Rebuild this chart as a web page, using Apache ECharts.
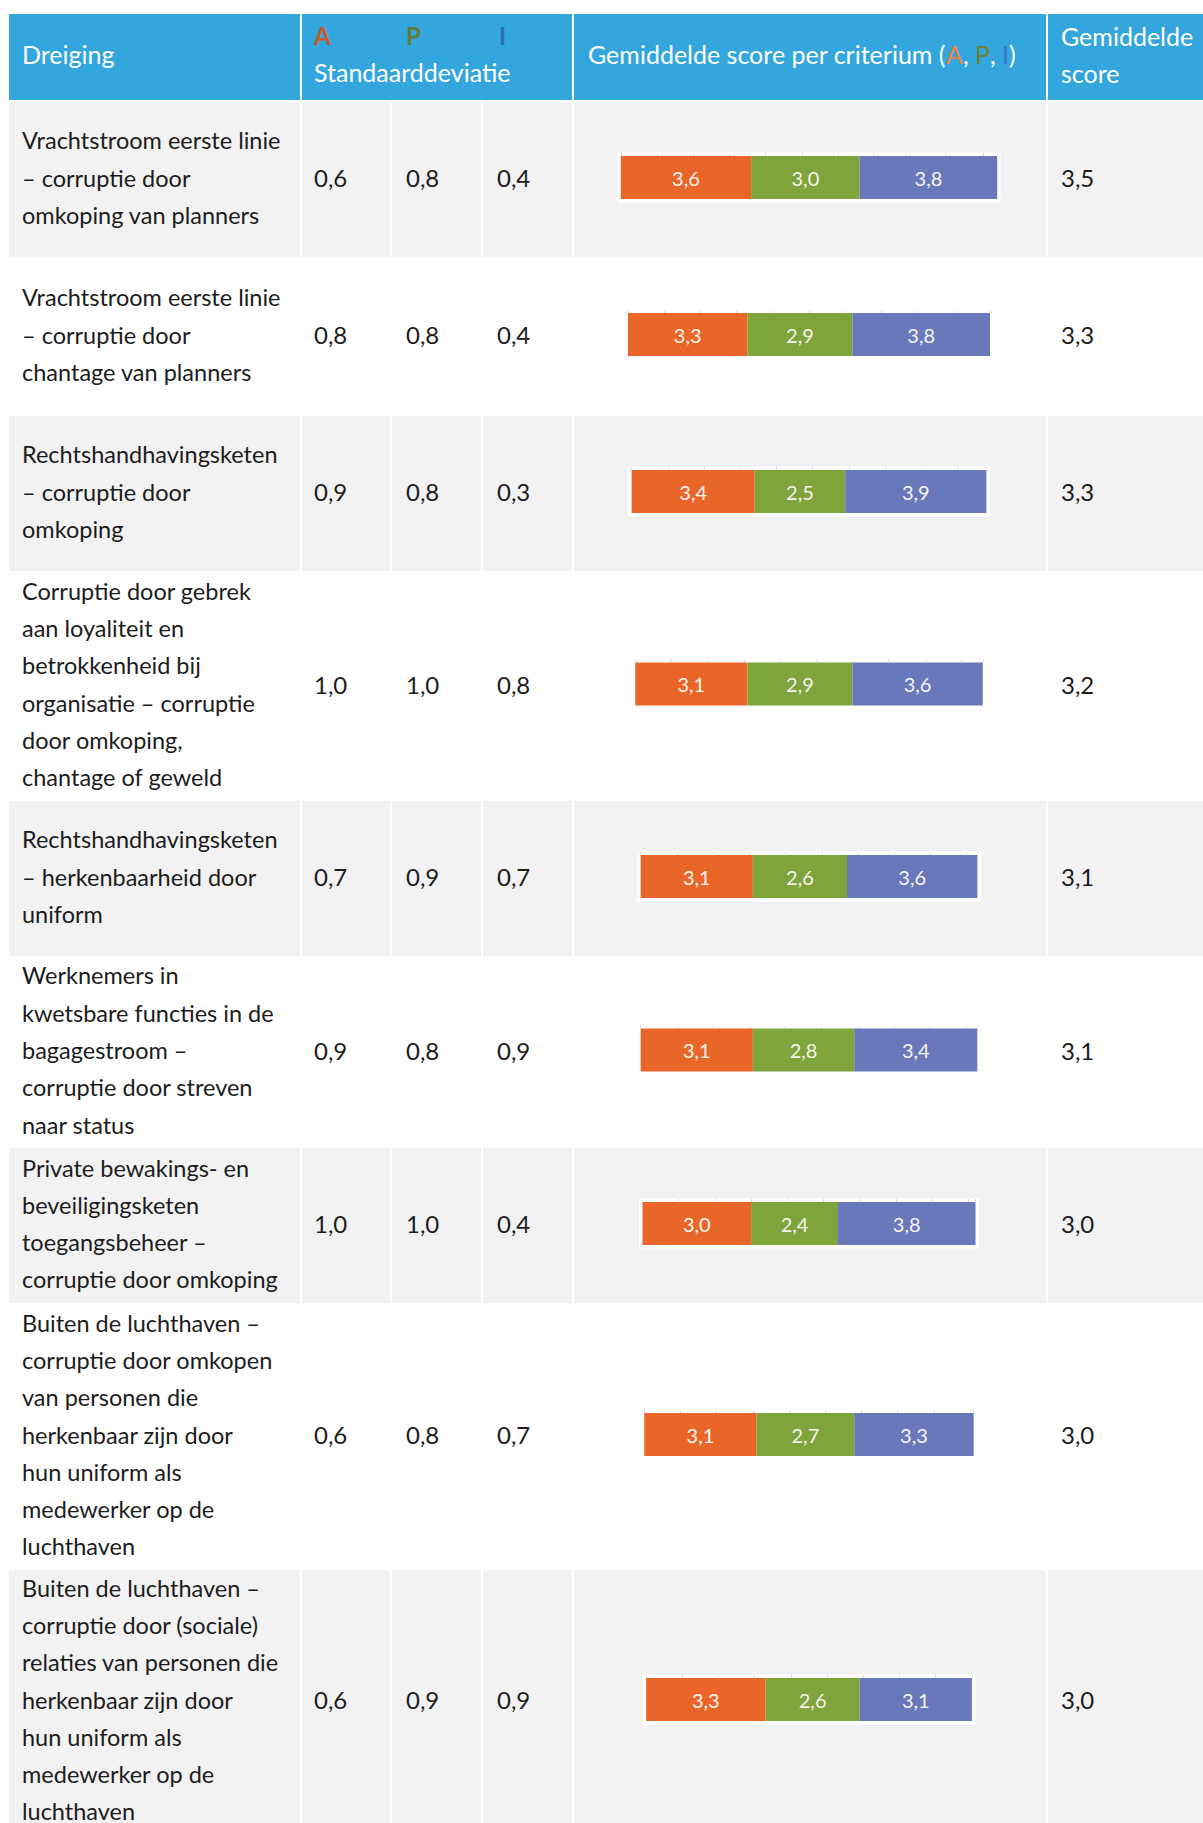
<!DOCTYPE html>
<html><head><meta charset="utf-8">
<script src="https://cdn.jsdelivr.net/npm/echarts@6/dist/echarts.min.js"></script>
<style>html,body{margin:0;padding:0;background:#fff;} #c{width:1203px;height:1823px;}</style>
</head><body><div id="c"></div>
<script>
// ---- data ----
const threats = [
  "Vrachtstroom eerste linie\n– corruptie door\nomkoping van planners",
  "Vrachtstroom eerste linie\n– corruptie door\nchantage van planners",
  "Rechtshandhavingsketen\n– corruptie door\nomkoping",
  "Corruptie door gebrek\naan loyaliteit en\nbetrokkenheid bij\norganisatie – corruptie\ndoor omkoping,\nchantage of geweld",
  "Rechtshandhavingsketen\n– herkenbaarheid door\nuniform",
  "Werknemers in\nkwetsbare functies in de\nbagagestroom –\ncorruptie door streven\nnaar status",
  "Private bewakings- en\nbeveiligingsketen\ntoegangsbeheer –\ncorruptie door omkoping",
  "Buiten de luchthaven –\ncorruptie door omkopen\nvan personen die\nherkenbaar zijn door\nhun uniform als\nmedewerker op de\nluchthaven",
  "Buiten de luchthaven –\ncorruptie door (sociale)\nrelaties van personen die\nherkenbaar zijn door\nhun uniform als\nmedewerker op de\nluchthaven"
];
const sdA = [0.6, 0.8, 0.9, 1.0, 0.7, 0.9, 1.0, 0.6, 0.6];
const sdP = [0.8, 0.8, 0.8, 1.0, 0.9, 0.8, 1.0, 0.8, 0.9];
const sdI = [0.4, 0.4, 0.3, 0.8, 0.7, 0.9, 0.4, 0.7, 0.9];
const scoreA = [3.6, 3.3, 3.4, 3.1, 3.1, 3.1, 3.0, 3.1, 3.3];
const scoreP = [3.0, 2.9, 2.5, 2.9, 2.6, 2.8, 2.4, 2.7, 2.6];
const scoreI = [3.8, 3.8, 3.9, 3.6, 3.6, 3.4, 3.8, 3.3, 3.1];
const avgScore = [3.5, 3.3, 3.3, 3.2, 3.1, 3.1, 3.0, 3.0, 3.0];
const criteria = ["A", "P", "I"];
const headDreiging = "Dreiging";
const headSd = "Standaarddeviatie";
const headScore = "Gemiddelde score per criterium (";
const headAvg = "Gemiddelde\nscore";

// ---- layout & style ----
const colL = [9, 302, 392, 483, 574, 1048];
const colR = [300, 390, 481, 572, 1046, 1203];
const headTop = 14, headBot = 100, rowTop0 = 102, gap = 2, rowLineH = 37.6, textLineH = 37.3;
const pxPerUnit = 36.2, barCenterX = 809, barH = 43;
const headBlue = '#34a6de';
const segColors = ['#ea6628', '#7fa43c', '#6878bb'];
const headLetterColors = ['#c95a2a', '#647b36', '#2c6fb8'];
const bodyFont = 'Lato, "Open Sans", sans-serif';
const textFont = '23.5px ' + bodyFont;
const numFont = '24px ' + bodyFont;
const headFont = '25px ' + bodyFont;
const fmt = v => v.toFixed(1).replace('.', ',');

const graphic = [];
const grids = [], xAxes = [], yAxes = [], series = [];

// header
[[0,0],[1,3],[4,4],[5,5]].forEach(([a,b]) => {
  graphic.push({type:'rect', z:-10, shape:{x:colL[a], y:headTop, width:colR[b]-colL[a], height:headBot-headTop}, style:{fill:headBlue}});
});
const hMid = (headTop + headBot) / 2 - 3;
graphic.push({type:'text', z:10, x:22, y:hMid, style:{text:headDreiging, font:headFont, fill:'#fff', verticalAlign:'middle'}});
const sdX = [314, 406, 497];
criteria.forEach((c, k) => {
  graphic.push({type:'text', z:10, x:sdX[k] + (k===2?2:0), y:35, style:{text:c, font:'bold 24px '+bodyFont, fill:headLetterColors[k], verticalAlign:'middle'}});
});
graphic.push({type:'text', z:10, x:314, y:72, style:{text:headSd, font:headFont, fill:'#fff', verticalAlign:'middle'}});
graphic.push({type:'text', z:10, x:588, y:hMid, style:{
  text:'{w|' + headScore + '}{a|' + criteria[0] + '}{w|, }{p|' + criteria[1] + '}{w|, }{i|' + criteria[2] + '}{w|)}',
  verticalAlign:'middle',
  rich:{
    w:{font:headFont, fill:'#fff'},
    a:{font:headFont, fill:'#ee8043'},
    p:{font:headFont, fill:'#6d8033'},
    i:{font:headFont, fill:'#3b6fc6'}
  }}});
graphic.push({type:'text', z:10, x:1061, y:hMid, style:{text:headAvg, font:headFont, fill:'#fff', lineHeight:37, verticalAlign:'middle'}});

// rows
let y = rowTop0;
threats.forEach((t, i) => {
  const nLines = t.split('\n').length;
  const h = Math.max(155, Math.round(nLines * rowLineH));
  const fill = i % 2 === 0 ? '#f2f2f2' : '#ffffff';
  for (let c = 0; c < 6; c++) {
    graphic.push({type:'rect', z:-10, shape:{x:colL[c], y:y, width:colR[c]-colL[c], height:h}, style:{fill:fill}});
  }
  const cy = y + h / 2;
  graphic.push({type:'text', z:10, x:22, y:cy - 2, style:{text:t, font:textFont, fill:'#1c1c1c', lineHeight:textLineH, verticalAlign:'middle'}});
  [sdA[i], sdP[i], sdI[i]].forEach((v, k) => {
    graphic.push({type:'text', z:10, x:sdX[k], y:cy - 2, style:{text:fmt(v), font:numFont, fill:'#1c1c1c', verticalAlign:'middle'}});
  });
  graphic.push({type:'text', z:10, x:1061, y:cy - 2, style:{text:fmt(avgScore[i]), font:numFont, fill:'#1c1c1c', verticalAlign:'middle'}});

  // bar grid
  const vals = [scoreA[i], scoreP[i], scoreI[i]];
  const S = +(vals[0] + vals[1] + vals[2]).toFixed(1);
  const w = S * pxPerUnit;
  grids.push({left: barCenterX - w / 2, top: cy - barH / 2 - 2, width: w, height: barH,
    show:true, backgroundColor:'#fff', borderColor:'#fff', borderWidth:7, containLabel:false});
  xAxes.push({type:'value', gridIndex:i, min:0, max:S, interval:1, position:'top',
    axisLine:{show:false}, axisLabel:{show:false}, splitLine:{show:false},
    axisTick:{show:true, length:3, lineStyle:{color:'#dcdcdc', width:1}}});
  yAxes.push({type:'category', gridIndex:i, data:[''], show:false});
  vals.forEach((v, k) => {
    series.push({type:'bar', name:criteria[k], xAxisIndex:i, yAxisIndex:i, stack:'row'+i,
      data:[v], barWidth:'100%', barCategoryGap:0, itemStyle:{color:segColors[k]},
      label:{show:true, position:'inside', formatter:p => fmt(p.value), color:'#f7f3ee',
        fontSize:20, fontFamily:bodyFont}, silent:true, animation:false});
  });
  y += h + gap;
});

const chart = echarts.init(document.getElementById('c'), null, {renderer:'svg'});
chart.setOption({animation:false, grid:grids, xAxis:xAxes, yAxis:yAxes, series:series, graphic:graphic});
</script>
</body></html>
